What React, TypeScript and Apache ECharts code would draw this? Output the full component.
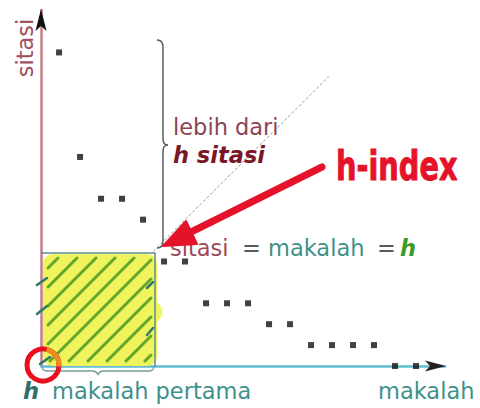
import React, { useEffect, useRef } from "react";
import * as echarts from "echarts";

// ---- data ----
const papers = [1, 2, 3, 4, 5, 6, 7, 8, 9, 10, 11, 12, 13, 14, 15, 16, 17, 18];
const citations = [15, 10, 8, 8, 7, 5, 5, 3, 3, 3, 2, 2, 1, 1, 1, 1, 0, 0];
const diagonalEnds = [5.5, 13.85];

const yAxisTitle = "sitasi";
const xAxisTitle = "makalah";
const braceLine1 = "lebih dari";
const braceLine2 = "h sitasi";
const eqParts = ["sitasi", "=", "makalah", "=", "h"];
const bottomH = "h";
const bottomRest = "makalah pertama";
const handText = "h-index";

const FONT = '"DejaVu Sans", Verdana, sans-serif';

echarts.graphic.registerShape(
  "braceV",
  echarts.graphic.extendPath(
    "M157,40 Q163,40 163,47 L163,139 Q163,145 168,145 Q163,145 163,151 L163,241 Q163,248 157,248",
    {}
  )
);
echarts.graphic.registerShape(
  "braceH",
  echarts.graphic.extendPath(
    "M42,366 Q42,371 47,371 L92,371 Q97,371 98,375 Q99,371 104,371 L149,371 Q154,371 154,366",
    {}
  )
);

function txt(
  text: string,
  x: number,
  baseline: number,
  size: number,
  color: string,
  weight = "normal",
  style = "normal"
) {
  return {
    type: "text",
    x,
    y: baseline - 0.346 * size,
    z: 50,
    style: {
      text,
      fontSize: size,
      fontFamily: FONT,
      fontWeight: weight,
      fontStyle: style,
      fill: color,
      align: "left",
      verticalAlign: "middle",
      textAlign: "left",
      textVerticalAlign: "middle",
    },
  };
}

function buildHatch() {
  const lines: any[] = [];
  const x0 = 45, x1 = 154, y0 = 255, y1 = 364;
  for (let s = x0 + y0 + 16; s < x1 + y1 - 8; s += 19) {
    const xa = Math.max(x0, s - y1);
    const xb = Math.min(x1, s - y0);
    if (xb - xa < 6) continue;
    lines.push({
      type: "line",
      z: 4,
      shape: { x1: xa + 3, y1: s - xa - 3, x2: xb - 3, y2: s - xb + 3 },
      style: { stroke: "#64a52c", lineWidth: 3, lineCap: "round" },
    });
  }
  return lines;
}

export default function App() {
  const ref = useRef<HTMLDivElement>(null);
  useEffect(() => {
    document.body.style.margin = "0";
    if (!ref.current) return;
    const chart = echarts.init(ref.current, undefined, { renderer: "svg" });
    const eqX = [170, 242, 268, 377, 400];
    const eqColors = ["#9a4b58", "#5a5a5a", "#3f918b", "#5a5a5a", "#3c9a25"];
    const graphic: any[] = [
      // yellow highlight
      {
        type: "rect",
        z: 3,
        shape: { x: 43, y: 254, width: 114, height: 112, r: 10 },
        style: { fill: "#eff45c" },
      },
      {
        type: "circle",
        z: 3,
        shape: { cx: 150, cy: 312, r: 12 },
        style: { fill: "#eff45c" },
      },
      ...buildHatch(),
      // dark teal ticks
      ...[
        [37, 285, 47, 278],
        [37, 314, 47, 306],
        [40, 364, 50, 357],
        [147, 288, 153, 282],
        [147, 335, 153, 328],
      ].map((p) => ({
        type: "line",
        z: 5,
        shape: { x1: p[0], y1: p[1], x2: p[2], y2: p[3] },
        style: { stroke: "#2d7a5e", lineWidth: 2.5, lineCap: "round" },
      })),
      // square outline
      {
        type: "polyline",
        z: 6,
        shape: { points: [[41, 253], [155, 253], [155, 366]] },
        style: { stroke: "#5f8f8b", lineWidth: 1.5, fill: "none" },
      },
      // braces
      {
        type: "braceV",
        z: 6,
        style: { stroke: "#555", lineWidth: 1.4, fill: "none" },
      },
      {
        type: "braceH",
        z: 6,
        style: { stroke: "#7a9c9a", lineWidth: 1.3, fill: "none" },
      },
      // axis arrows
      {
        type: "polygon",
        z: 20,
        shape: { points: [[41, 9], [35.5, 31], [41, 26], [46.5, 31]] },
        style: { fill: "#111" },
      },
      {
        type: "polygon",
        z: 20,
        shape: { points: [[446, 366], [425, 360.5], [430, 366], [425, 371.5]] },
        style: { fill: "#222" },
      },
      // rotated y title
      {
        type: "text",
        z: 50,
        x: 33 - 0.346 * 22.5,
        y: 48,
        rotation: Math.PI / 2,
        style: {
          text: yAxisTitle,
          fontSize: 22.5,
          fontFamily: FONT,
          fill: "#a0505e",
          align: "center",
          verticalAlign: "middle",
          textAlign: "center",
          textVerticalAlign: "middle",
        },
      },
      txt(braceLine1, 173, 135, 22.5, "#8c4452"),
      txt(braceLine2, 173, 163, 22.5, "#7a1626", "bold", "italic"),
      ...eqParts.map((t, i) =>
        txt(
          t,
          eqX[i],
          256,
          22.5,
          eqColors[i],
          i === 4 ? "bold" : "normal",
          i === 4 ? "italic" : "normal"
        )
      ),
      txt(bottomH, 23, 399, 22.5, "#2f6f6b", "bold", "italic"),
      txt(bottomRest, 52, 399, 22.5, "#3f918b"),
      txt(xAxisTitle, 378, 399, 22.5, "#3f918b"),
      // red arrow
      {
        type: "line",
        z: 60,
        shape: { x1: 322, y1: 167, x2: 189, y2: 233 },
        style: { stroke: "#e5132a", lineWidth: 7, lineCap: "round" },
      },
      {
        type: "polygon",
        z: 60,
        shape: { points: [[163, 246], [186, 221], [197, 244]] },
        style: { fill: "#e5132a", stroke: "#e5132a", lineWidth: 2, lineJoin: "round" },
      },
      // handwritten h-index
      {
        type: "text",
        z: 60,
        x: 336,
        y: 180 - 0.346 * 40,
        scaleX: 0.72,
        style: {
          text: handText,
          fontSize: 40,
          fontFamily: FONT,
          fontWeight: "bold",
          fill: "#e5132a",
          stroke: "#e5132a",
          lineWidth: 1,
          align: "left",
          verticalAlign: "middle",
          textAlign: "left",
          textVerticalAlign: "middle",
        },
      },
      // red circle
      {
        type: "circle",
        z: 70,
        shape: { cx: 43, cy: 365, r: 16 },
        style: { fill: "none", stroke: "#e8101e", lineWidth: 5 },
      },
      {
        type: "arc",
        z: 71,
        shape: { cx: 43, cy: 365, r: 16, startAngle: -1.35, endAngle: 0.1, clockwise: true },
        style: { fill: "none", stroke: "#f08a22", lineWidth: 5 },
      },
    ];

    chart.setOption({
      animation: false,
      backgroundColor: "#fff",
      grid: { left: 41, right: 35, top: 10, bottom: 42 },
      xAxis: {
        type: "value",
        min: 0.14,
        max: 19.38,
        axisLine: { show: true, onZero: false, lineStyle: { color: "#62bcd0", width: 2.5 } },
        axisTick: { show: false },
        axisLabel: { show: false },
        splitLine: { show: false },
      },
      yAxis: {
        type: "value",
        min: 0,
        max: 17.03,
        axisLine: { show: true, onZero: false, lineStyle: { color: "#c47c88", width: 2.5 } },
        axisTick: { show: false },
        axisLabel: { show: false },
        splitLine: { show: false },
      },
      series: [
        {
          type: "line",
          data: diagonalEnds.map((v) => [v, v]),
          symbol: "none",
          lineStyle: { color: "#9a9a9a", width: 1, type: [3, 2] },
          z: 1,
          silent: true,
        },
        {
          type: "scatter",
          data: papers.map((p, i) => [p, citations[i]]),
          symbol: "rect",
          symbolSize: 6,
          itemStyle: { color: "#111" },
          z: 30,
        },
      ],
      graphic,
    });
    return () => chart.dispose();
  }, []);
  return <div ref={ref} style={{ width: 480, height: 408 }} />;
}
